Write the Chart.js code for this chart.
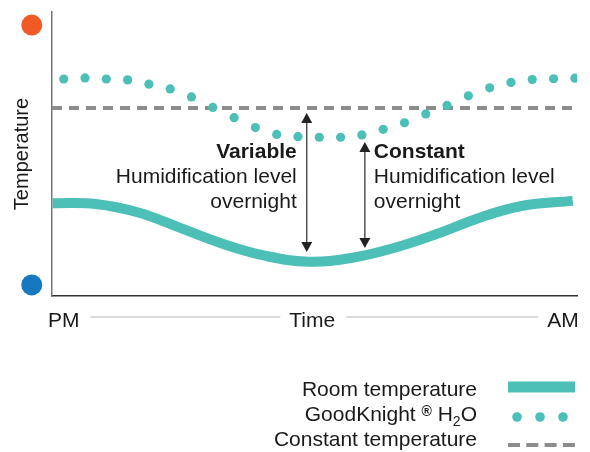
<!DOCTYPE html>
<html>
<head>
<meta charset="utf-8">
<script src="https://cdn.jsdelivr.net/npm/chart.js@4.4.1/dist/chart.umd.min.js"></script>
<style>
  html, body { margin: 0; padding: 0; background: #fff; }
  #wrap { position: relative; width: 590px; height: 452px; }
  #legend {
    position: absolute; right: 113px; top: 376px;
    font: 21px "Liberation Sans", Arial, sans-serif; color: #1a1a1a;
    text-align: right; line-height: 25px; white-space: nowrap;
  }
  #legend sup { font-size: 14px; line-height: 0; vertical-align: 5px; font-weight: bold; }
  #legend sub { font-size: 14px; line-height: 0; }
</style>
</head>
<body>
<div id="wrap">
  <canvas id="chart" width="590" height="452"></canvas>
  <div id="legend"></div>
</div>
<script>
// time steps through the night (PM -> AM), one per GoodKnight reading
const timeSteps = [0, 1, 2, 3, 4, 5, 6, 7, 8, 9, 10, 11, 12, 13, 14, 15, 16, 17, 18, 19, 20, 21, 22, 23, 24]
const goodKnight = [76.4, 76.8, 76.4, 76.1, 74.6, 72.9, 70.1, 66.4, 62.8, 59.3, 56.9, 56.1, 55.9,
                    55.9, 56.7, 58.7, 61.0, 64.1, 67.1, 70.5, 73.3, 75.2, 76.2, 76.5, 76.7]

// room temperature curve
const roomX = [-0.52, 1.5, 3.5, 5.5, 7.5, 9.5, 11.5, 13.5, 15.5, 17.5, 19.5, 21.5, 23.9]
const roomTemp = [32.7, 32.4, 29.4, 23.9, 18.3, 14.1, 12.1, 13.4, 16.9, 21.8, 27.5, 31.7, 33.5]

const constantTemp = 66.2
const seriesNames = ['Room temperature', 'GoodKnight ® H2O', 'Constant temperature']
const xTickLabels = ['PM', 'Time', 'AM']
const yTitle = 'Temperature'

const teal = '#4cbfb7'
const grey = '#8c8c8c'
const font = '"Liberation Sans", Arial, sans-serif'

const xMin = -0.55, xMax = 24.1

// warm / cold markers left of the axis
const markers = [
  { x: -1.5, y: 95.4, color: '#f05a24' },
  { x: -1.5, y: 3.9, color: '#1679bf' },
]

// the two arrows with their captions
const notes = [
  { x: 11.41, top: 64.4, bottom: 15.5, side: 'left', lines: ['Variable', 'Humidification level', 'overnight'] },
  { x: 14.14, top: 54.2, bottom: 16.9, side: 'right', lines: ['Constant', 'Humidification level', 'overnight'] },
]
const noteBaseline = 48.6

function arrowHead(ctx, x, y, dir) {
  ctx.beginPath()
  ctx.moveTo(x, y)
  ctx.lineTo(x - 5.5, y - dir * 10)
  ctx.lineTo(x + 5.5, y - dir * 10)
  ctx.closePath()
  ctx.fill()
}

const extras = {
  id: 'extras',
  afterDraw(chart) {
    const ctx = chart.ctx
    const xs = chart.scales.x, ys = chart.scales.y
    ctx.save()

    markers.forEach(m => {
      ctx.fillStyle = m.color
      ctx.beginPath()
      ctx.arc(xs.getPixelForValue(m.x), ys.getPixelForValue(m.y), 10.5, 0, Math.PI * 2)
      ctx.fill()
    })

    // arrows + captions
    notes.forEach(n => {
      const px = xs.getPixelForValue(n.x)
      const y0 = ys.getPixelForValue(n.top), y1 = ys.getPixelForValue(n.bottom)
      ctx.strokeStyle = '#3a3a3a'
      ctx.fillStyle = '#222'
      ctx.lineWidth = 1.3
      ctx.beginPath()
      ctx.moveTo(px, y0 + 6)
      ctx.lineTo(px, y1 - 6)
      ctx.stroke()
      arrowHead(ctx, px, y0, -1)
      arrowHead(ctx, px, y1, 1)

      const tx = n.side === 'left' ? px - 10 : px + 9
      ctx.textAlign = n.side === 'left' ? 'right' : 'left'
      ctx.textBaseline = 'alphabetic'
      ctx.fillStyle = '#1a1a1a'
      let by = ys.getPixelForValue(noteBaseline)
      n.lines.forEach((t, i) => {
        ctx.font = (i === 0 ? 'bold ' : '') + '21px ' + font
        ctx.fillText(t, tx, by)
        by += 25
      })
    })

    // thin rules between the x labels
    ctx.font = '21px ' + font
    ctx.strokeStyle = '#cfcfcf'
    ctx.lineWidth = 1.5
    const ly = chart.chartArea.bottom + 21
    const spans = xs.ticks.map((t, i) => {
      const c = xs.getPixelForValue(t.value)
      const w = ctx.measureText(xTickLabels[i]).width
      return [c - w / 2, c + w / 2]
    })
    for (let i = 0; i < spans.length - 1; i++) {
      ctx.beginPath()
      ctx.moveTo(spans[i][1] + 11, ly)
      ctx.lineTo(spans[i + 1][0] - 9, ly)
      ctx.stroke()
    }

    // legend swatches
    const sx0 = 508, sx1 = 575
    ctx.fillStyle = teal
    ctx.fillRect(sx0, 381.5, sx1 - sx0, 11)
    ;[517, 540, 563].forEach(cx => {
      ctx.beginPath()
      ctx.arc(cx, 417, 4.8, 0, Math.PI * 2)
      ctx.fill()
    })
    ctx.strokeStyle = grey
    ctx.lineWidth = 4
    ctx.setLineDash([12, 6.3])
    ctx.beginPath()
    ctx.moveTo(sx0, 445)
    ctx.lineTo(sx1, 445)
    ctx.stroke()
    ctx.restore()
  }
}

new Chart(document.getElementById('chart'), {
  type: 'scatter',
  data: {
    datasets: [
      {
        label: seriesNames[1],
        data: timeSteps.map((x, i) => ({ x: x, y: goodKnight[i] })),
        pointRadius: 4.6,
        pointBackgroundColor: teal,
        pointBorderWidth: 0,
        showLine: false,
        order: 0,
      },
      {
        label: seriesNames[2],
        data: [{ x: xMin, y: constantTemp }, { x: xMax, y: constantTemp }],
        showLine: true,
        borderColor: grey,
        borderWidth: 4,
        borderDash: [10, 7],
        pointRadius: 0,
        order: 1,
      },
      {
        label: seriesNames[0],
        data: roomX.map((x, i) => ({ x: x, y: roomTemp[i] })),
        showLine: true,
        borderColor: teal,
        borderWidth: 10,
        borderCapStyle: 'butt',
        tension: 0.4,
        pointRadius: 0,
        order: 2,
      },
    ],
  },
  options: {
    responsive: false,
    animation: false,
    layout: { padding: { top: 12, right: 13, left: 0, bottom: 0 } },
    plugins: {
      legend: { display: false },
      tooltip: { enabled: false },
    },
    scales: {
      x: {
        type: 'linear',
        min: xMin,
        max: xMax,
        bounds: 'data',
        grid: { display: false },
        border: { display: true, color: '#333', width: 1.5 },
        afterBuildTicks: axis => {
          axis.ticks = [0, 11.67, 23.44].map(v => ({ value: v }))
        },
        afterFit: axis => { axis.height = 156 },
        ticks: {
          autoSkip: false,
          maxRotation: 0,
          padding: 5,
          color: '#1a1a1a',
          font: { family: font, size: 21 },
          callback: (v, i) => xTickLabels[i],
        },
      },
      y: {
        min: 0,
        max: 100,
        grid: { display: false },
        border: { display: true, color: '#777', width: 1.5 },
        ticks: { display: false },
        afterFit: axis => { axis.width = 52 },
        title: {
          display: true,
          text: yTitle,
          color: '#1a1a1a',
          font: { family: font, size: 20 },
          padding: { top: 10, bottom: 0 },
        },
      },
    },
  },
  plugins: [extras],
})

document.getElementById('legend').innerHTML = seriesNames
  .map(s => '<div>' + s.replace('®', '<sup>®</sup>').replace('H2O', 'H<sub>2</sub>O') + '</div>')
  .join('')
</script>
</body>
</html>
